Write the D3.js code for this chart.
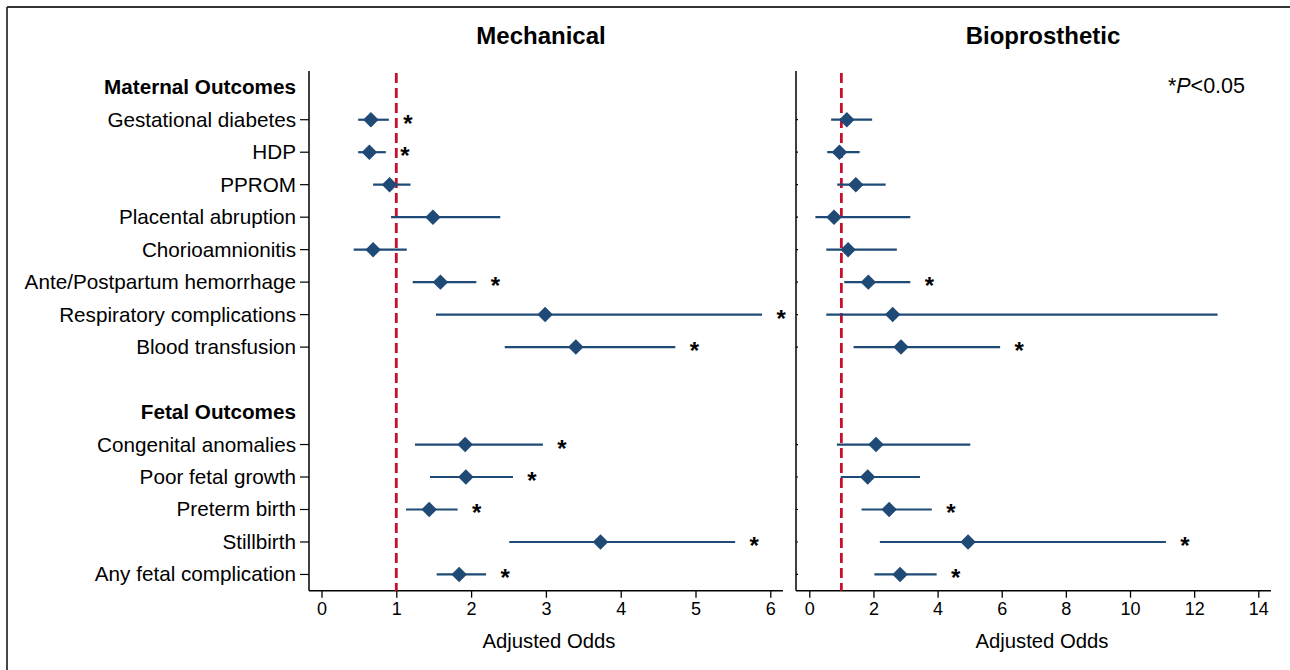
<!DOCTYPE html>
<html>
<head>
<meta charset="utf-8">
<script src="https://cdn.jsdelivr.net/npm/d3@7"></script>
<style>
  html, body { margin: 0; padding: 0; background: #fff; overflow: hidden; width: 1290px; height: 670px; }
  svg { display: block; font-family: "Liberation Sans", Arial, sans-serif; overflow: hidden; }
</style>
</head>
<body>
<svg id="chart" width="1290" height="670"></svg>
<script>
// ---------------- data ----------------
const groupHeaders = ["Maternal Outcomes", "Fetal Outcomes"];
const maternalOutcomes = ["Gestational diabetes", "HDP", "PPROM", "Placental abruption",
  "Chorioamnionitis", "Ante/Postpartum hemorrhage", "Respiratory complications", "Blood transfusion"];
const fetalOutcomes = ["Congenital anomalies", "Poor fetal growth", "Preterm birth", "Stillbirth",
  "Any fetal complication"];

// Mechanical valves (maternal then fetal)
const mechOR  = [0.66, 0.64, 0.91, 1.49, 0.69, 1.59, 2.99, 3.40,  1.92, 1.93, 1.44, 3.73, 1.84];
const mechLo  = [0.49, 0.49, 0.69, 0.93, 0.43, 1.22, 1.53, 2.45,  1.25, 1.45, 1.13, 2.51, 1.54];
const mechHi  = [0.90, 0.86, 1.19, 2.39, 1.14, 2.07, 5.89, 4.73,  2.96, 2.56, 1.82, 5.53, 2.20];
const mechSig = [1, 1, 0, 0, 0, 1, 1, 1,  1, 1, 1, 1, 1];

// Bioprosthetic valves
const bioOR  = [1.17, 0.94, 1.45, 0.77, 1.21, 1.84, 2.60, 2.86,  2.08, 1.82, 2.49, 4.95, 2.83];
const bioLo  = [0.68, 0.56, 0.87, 0.19, 0.53, 1.09, 0.53, 1.38,  0.86, 0.98, 1.63, 2.20, 2.03];
const bioHi  = [1.96, 1.57, 2.38, 3.15, 2.73, 3.15, 12.73, 5.95, 5.02, 3.45, 3.82, 11.12, 3.97];
const bioSig = [0, 0, 0, 0, 0, 1, 0, 1,  0, 0, 1, 1, 1];

const mechTicks = [0, 1, 2, 3, 4, 5, 6];
const bioTicks = [0, 2, 4, 6, 8, 10, 12, 14];
const panelTitles = ["Mechanical", "Bioprosthetic"];
const axisTitle = "Adjusted Odds";
const refValue = 1;

// ---------------- layout ----------------
const svg = d3.select("#chart");
const navy = "#1f4a76";
const red = "#c8102e";

// frame (top and left edges only visible)
svg.append("line").attr("x1", 7).attr("x2", 1290).attr("y1", 7).attr("y2", 7)
  .attr("stroke", "#333").attr("stroke-width", 1.8);
svg.append("line").attr("x1", 7).attr("x2", 7).attr("y1", 7).attr("y2", 670)
  .attr("stroke", "#333").attr("stroke-width", 1.8);

// row positions: header(0), maternal 1..8, blank 9, header 10, fetal 11..15
const rows = [];
rows.push({label: groupHeaders[0], header: true, idx: 0});
maternalOutcomes.forEach((d, i) => rows.push({label: d, header: false, idx: 1 + i, k: i}));
rows.push({label: groupHeaders[1], header: true, idx: 10});
fetalOutcomes.forEach((d, i) => rows.push({label: d, header: false, idx: 11 + i, k: maternalOutcomes.length + i}));

const y = d3.scaleLinear().domain([-0.5, 15.5]).range([71, 590.7]);

const panels = [
  {title: panelTitles[0], x0: 309, x1: 783, domain: [0, 6], range: [321.5, 770.3], ticks: mechTicks,
   or: mechOR, lo: mechLo, hi: mechHi, sig: mechSig, titleX: 541, axisTitleX: 549, labels: true},
  {title: panelTitles[1], x0: 796, x1: 1271, domain: [0, 14], range: [809.3, 1258.3], ticks: bioTicks,
   or: bioOR, lo: bioLo, hi: bioHi, sig: bioSig, titleX: 1043, axisTitleX: 1042, labels: false}
];

const diamond = d3.symbol().type(d3.symbolSquare).size(120);

panels.forEach(p => {
  const x = d3.scaleLinear().domain(p.domain).range(p.range);
  const g = svg.append("g");

  // title
  g.append("text").attr("x", p.titleX).attr("y", 44).attr("text-anchor", "middle")
    .attr("font-size", 24).attr("font-weight", "bold").attr("fill", "#000").text(p.title);

  // y axis line
  g.append("line").attr("x1", p.x0).attr("x2", p.x0).attr("y1", y(-0.5)).attr("y2", y(15.5))
    .attr("stroke", "#000").attr("stroke-width", 1.5);

  // x axis
  const xAxis = d3.axisBottom(x).tickValues(p.ticks).tickFormat(d3.format("d"))
    .tickSize(7).tickPadding(5).tickSizeOuter(0);
  const ax = g.append("g").attr("transform", `translate(0,${y(15.5)})`).call(xAxis);
  ax.select(".domain").remove();
  ax.append("line").attr("x1", p.x0).attr("x2", p.x1).attr("y1", 0).attr("y2", 0)
    .attr("stroke", "#000").attr("stroke-width", 1.5);
  ax.selectAll(".tick line").attr("stroke", "#000").attr("stroke-width", 1.3);
  ax.selectAll(".tick text").attr("font-size", 18).attr("fill", "#000")
    .attr("font-family", "Liberation Sans, Arial, sans-serif");

  g.append("text").attr("x", p.axisTitleX).attr("y", 648).attr("text-anchor", "middle")
    .attr("font-size", 20.3).attr("fill", "#000").text(axisTitle);

  // y ticks & labels
  const dataRows = rows.filter(r => !r.header);
  g.selectAll(".ytick").data(dataRows).enter().append("line")
    .attr("x1", p.labels ? p.x0 - 9 : p.x0).attr("x2", p.labels ? p.x0 : p.x0 + 2)
    .attr("y1", d => y(d.idx)).attr("y2", d => y(d.idx))
    .attr("stroke", "#000").attr("stroke-width", 1.2);

  if (p.labels) {
    g.selectAll(".ylab").data(rows).enter().append("text")
      .attr("x", p.x0 - 13).attr("y", d => y(d.idx) + 7)
      .attr("text-anchor", "end").attr("font-size", 20.7)
      .attr("font-weight", d => d.header ? "bold" : "normal")
      .attr("fill", "#000").text(d => d.label);
  }

  // reference line
  g.append("line").attr("x1", x(refValue)).attr("x2", x(refValue))
    .attr("y1", y(-0.5) + 2).attr("y2", y(15.5))
    .attr("stroke", red).attr("stroke-width", 2.8).attr("stroke-dasharray", "10,5");

  // CI lines
  g.selectAll(".ci").data(dataRows).enter().append("line")
    .attr("x1", d => x(p.lo[d.k])).attr("x2", d => x(p.hi[d.k]))
    .attr("y1", d => y(d.idx)).attr("y2", d => y(d.idx))
    .attr("stroke", navy).attr("stroke-width", 2.2);

  // diamonds
  g.selectAll(".pt").data(dataRows).enter().append("path")
    .attr("d", diamond)
    .attr("transform", d => `translate(${x(p.or[d.k])},${y(d.idx)}) rotate(45)`)
    .attr("fill", navy);

  // significance stars
  g.selectAll(".star").data(dataRows.filter(d => p.sig[d.k])).enter().append("text")
    .attr("x", d => x(p.hi[d.k]) + 19).attr("y", d => y(d.idx) + 12)
    .attr("text-anchor", "middle").attr("font-size", 24).attr("font-weight", "bold")
    .attr("fill", "#000").text("*");
});

// P-value note
const note = svg.append("text").attr("x", 1245).attr("y", 93).attr("text-anchor", "end")
  .attr("font-size", 21.5).attr("fill", "#000");
note.append("tspan").text("*");
note.append("tspan").attr("font-style", "italic").text("P");
note.append("tspan").text("<0.05");
</script>
</body>
</html>
